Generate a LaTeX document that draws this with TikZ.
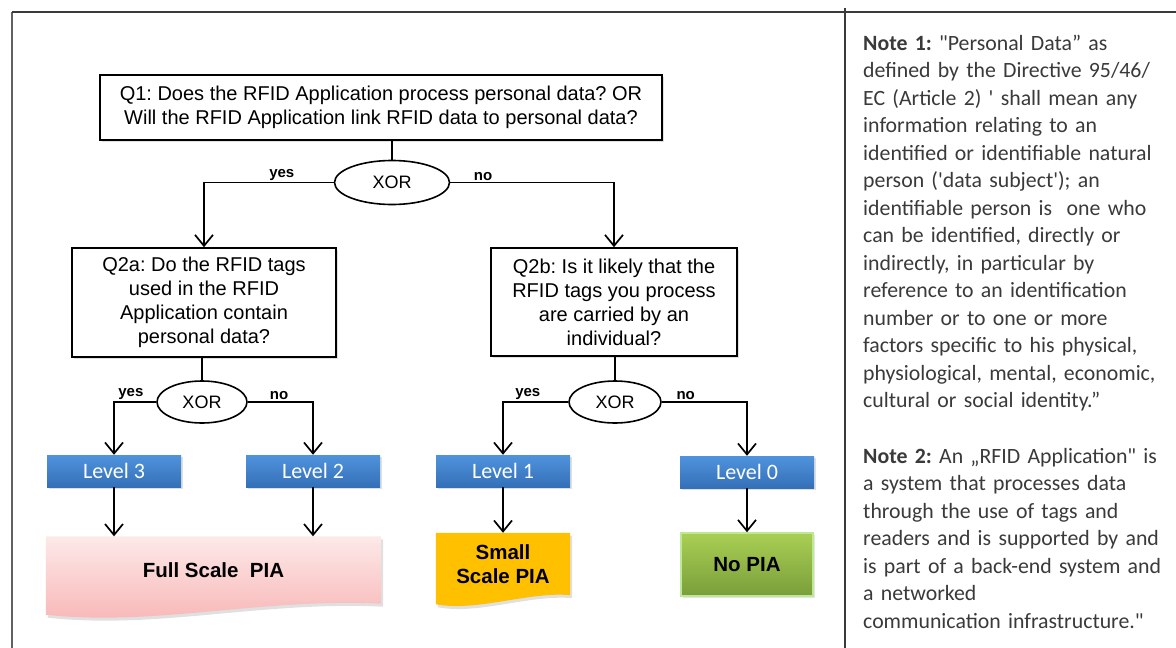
\documentclass[tikz,border=0pt]{standalone}
\usepackage{fontspec}
\setmainfont{Liberation Sans}
\newfontfamily\calfont{Carlito}
\usetikzlibrary{arrows.meta,shapes.geometric,backgrounds,shadows,calc}
\definecolor{framec}{HTML}{3A3A3A}
\definecolor{lvltop}{HTML}{4F93DC}
\definecolor{lvlbot}{HTML}{3470B8}
\definecolor{pinktop}{HTML}{FDE9E9}
\definecolor{pinkbot}{HTML}{F8B4B4}
\definecolor{smallc}{HTML}{FFC000}
\definecolor{nogtop}{HTML}{A9CF54}
\definecolor{nogbot}{HTML}{7A9E3A}
\definecolor{nogborder}{HTML}{BDE996}
\definecolor{notec}{HTML}{3A3A3A}
\frenchspacing
\begin{document}
\begin{tikzpicture}[x=1pt,y=-1pt,
  qbox/.style={draw=black, line width=1.6pt, fill=white, align=center, inner sep=0pt,
    font=\frenchspacing\fontsize{20}{24}\selectfont,
    drop shadow={shadow xshift=2pt,shadow yshift=-2pt,opacity=0.25}},
  xorn/.style={ellipse, draw=black, line width=1.6pt, fill=white, inner sep=0pt,
    font=\fontsize{18}{20}\selectfont},
  lvl/.style={minimum width=134pt, minimum height=32pt, inner sep=0pt,
    top color=lvltop, bottom color=lvlbot, text=white,
    font=\calfont\fontsize{22}{22}\selectfont,
    drop shadow={shadow xshift=1.5pt,shadow yshift=-2pt,opacity=0.25}},
  res/.style={inner sep=0pt, align=center, font=\bfseries\fontsize{20.5}{24}\selectfont},
  conn/.style={line width=1.6pt},
  arr/.style={line width=1.7pt, -{Straight Barb[length=11pt,width=18pt]}},
  lab/.style={anchor=south, inner sep=1.5pt, font=\bfseries\fontsize{15}{15}\selectfont},
  notes/.style={anchor=base west, inner sep=0pt, text width=330pt, align=left,
    text=notec, font=\frenchspacing\calfont\fontsize{21.8}{27.5}\selectfont},
  framel/.style={draw=framec, line width=2.2pt}
]
\useasboundingbox (0,0) rectangle (1176,648);

% frame
\draw[framel, draw=framec!80] (12,648) -- (12,12);
\draw[framel] (12,12) -- (1176,12);
\draw[framel] (845,8) -- (845,648);

% questions
\node[qbox, minimum width=562pt, minimum height=65pt] (q1) at (381,107.5)
  {Q1: Does the RFID Application process personal data? OR\\Will the RFID Application link RFID data to personal data?};
\node[xorn, minimum width=115pt, minimum height=44pt] (x1) at (392,182.5) {XOR};
\node[qbox, minimum width=264pt, minimum height=109pt] (q2a) at (204,302.5)
  {Q2a: Do the RFID tags\\used in the RFID\\Application contain\\personal data?};
\node[qbox, minimum width=246pt, minimum height=108pt] (q2b) at (614,302)
  {Q2b: Is it likely that the\\RFID tags you process\\are carried by an\\individual?};
\node[xorn, minimum width=90pt, minimum height=42pt] (x2) at (202,402) {XOR};
\node[xorn, minimum width=92pt, minimum height=42pt] (x3) at (615,402) {XOR};

% levels
\node[lvl] (l3) at (114,471) {Level 3};
\node[lvl] (l2) at (313,471) {Level 2};
\node[lvl] (l1) at (503,471) {Level 1};
\node[lvl] (l0) at (747,472) {Level 0};

% results
\node[res, minimum width=335pt, minimum height=67pt] (full) at (213.5,570) {Full Scale\ \ PIA};
\node[res, minimum width=134pt, minimum height=62pt] (small) at (503,564) {Small\\Scale PIA};
\node[res, minimum width=132pt, minimum height=63pt, draw=nogborder, line width=1.5pt,
  top color=nogtop, bottom color=nogbot,
  drop shadow={shadow xshift=1.5pt,shadow yshift=-2pt,opacity=0.2}] (nopia) at (747,564.5) {No PIA};

\begin{pgfonlayer}{background}
\fill[white] (0,0) rectangle (1176,648);
\fill[black,opacity=0.12] ($(full.north west)+(2,3)$) -- ($(full.north east)+(2,3)$) -- ($(full.south east)+(2,3)$)
  .. controls ($(full.south east)+(-118,-3)$) and ($(full.south west)+(112,26)$) .. ($(full.south west)+(2,14)$) -- cycle;
\shade[top color=pinktop, bottom color=pinkbot] (full.north west) -- (full.north east) -- (full.south east)
  .. controls ($(full.south east)+(-120,-6)$) and ($(full.south west)+(110,23)$) .. ($(full.south west)+(0,11)$) -- cycle;
\fill[black,opacity=0.12] ($(small.north west)+(2,3)$) -- ($(small.north east)+(2,3)$) -- ($(small.south east)+(2,3)$)
  .. controls ($(small.south east)+(-40,-1)$) and ($(small.south west)+(42,20)$) .. ($(small.south west)+(2,12)$) -- cycle;
\fill[smallc] (small.north west) -- (small.north east) -- (small.south east)
  .. controls ($(small.south east)+(-40,-4)$) and ($(small.south west)+(40,17)$) .. ($(small.south west)+(0,9)$) -- cycle;
\end{pgfonlayer}

% connectors
\draw[conn] (q1.south -| x1.north) -- (x1.north);
\draw[arr] (x1.west) -| node[lab, pos=0.2] {yes} (q2a.north);
\draw[arr] (x1.east) -| node[lab, pos=0.1] {no} (q2b.north);

\draw[conn] (x2.north |- q2a.south) -- (x2.north);
\draw[arr] (x2.west) -| node[lab, pos=0.3] {yes} (l3.north);
\draw[arr] (x2.east) -| node[lab, pos=0.24] {no} (l2.north);

\draw[conn] (x3.north |- q2b.south) -- (x3.north);
\draw[arr] (x3.west) -| node[lab, pos=0.31] {yes} (l1.north);
\draw[arr] (x3.east) -| node[lab, pos=0.14] {no} (l0.north);

\draw[arr] (l3.south) -- (l3.south |- full.north);
\draw[arr] (l2.south) -- (l2.south |- full.north);
\draw[arr] (l1.south) -- (small.north);
\draw[arr] (l0.south) -- (nopia.north);

% notes
\node[notes] (note1) at (863,50) {\textbf{Note 1:} \textquotedbl Personal Data” as\\
defined by the Directive 95/46/\\
EC (Article 2) \textquotesingle{} shall mean any\\
information relating to an\\
identified or identifiable natural\\
person (\textquotesingle data subject\textquotesingle); an\\
identifiable person is\ \ one who\\
can be identified, directly or\\
indirectly, in particular by\\
reference to an identification\\
number or to one or more\\
factors specific to his physical,\\
physiological, mental, economic,\\
cultural or social identity.”};
\node[notes] (note2) at (863,463) {\textbf{Note 2:} An „RFID Application\textquotedbl{} is\\
a system that processes data\\
through the use of tags and\\
readers and is supported by and\\
is part of a back-end system and\\
a networked\\
communication infrastructure.\textquotedbl};
\end{tikzpicture}
\end{document}
